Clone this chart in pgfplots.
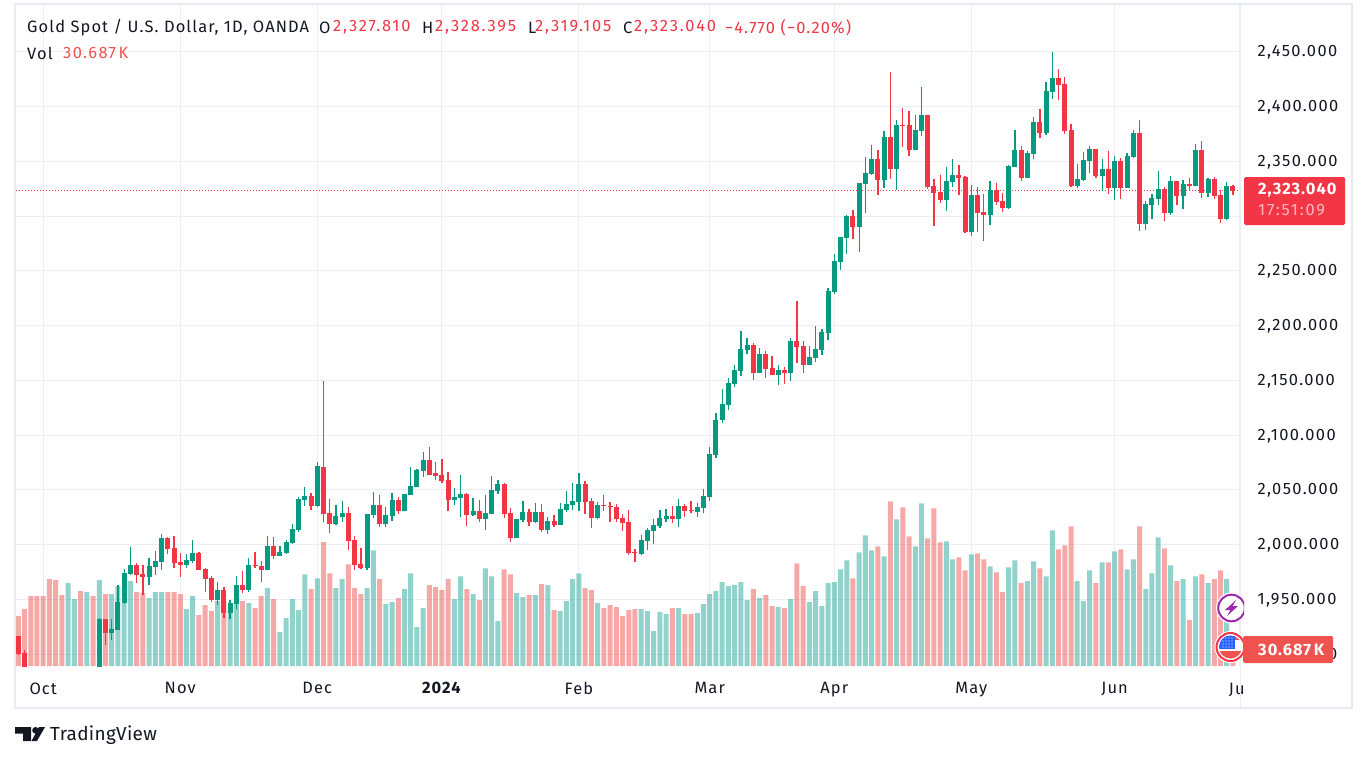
\documentclass[border=0pt]{standalone}
\usepackage{fontspec}
\usepackage{pgfplots}
\usepackage{pgfplotstable}
\pgfplotsset{compat=1.18}
\setmainfont[LetterSpace=6.8]{Fira Sans}
\newfontfamily\nums[LetterSpace=8.5]{Fira Sans}
\newfontfamily\hnums[LetterSpace=11]{Fira Sans}
\newfontfamily\tagfont[LetterSpace=6]{Fira Sans}
\newfontfamily\logofont[LetterSpace=1.7]{Fira Sans}

\definecolor{upc}{HTML}{089981}
\definecolor{dnc}{HTML}{F23645}
\definecolor{volup}{HTML}{26A69A}
\definecolor{voldn}{HTML}{EF5350}
\definecolor{ink}{HTML}{131722}
\definecolor{gridc}{HTML}{ECEEF5}
\definecolor{framec}{HTML}{E9E9F2}
\definecolor{boltc}{HTML}{9C27B0}
\definecolor{flagc}{HTML}{2962FF}

% daily candles, i = bar number (2..12 lie below the visible range)
\pgfplotstableread{
i o h l c
0 1916.7 1916.7 1899.4 1900.3
1 1901.2 1904 1880 1885
13 1870 1933.1 1868 1932.2
14 1932.2 1932.2 1908.5 1919.5
15 1919.5 1932.2 1913.1 1923.1
16 1922.2 1963.2 1922.2 1947.7
17 1946.8 1977.8 1945.9 1974.2
18 1973.3 1997.9 1972.4 1981.5
19 1981.5 1983.3 1965.1 1972.4
20 1973.3 1981.5 1954.1 1970.5
21 1970.5 1987.9 1963.2 1980.6
22 1979.6 1994.2 1972.4 1985.1
23 1984.2 2009.7 1976.9 2006.1
24 2006.1 2007 1991.5 1996.1
25 1997 2007.9 1978.7 1983.3
26 1984.2 1992.4 1970.5 1981.5
27 1981.5 1991.5 1978.7 1986
28 1985.1 2004.3 1983.3 1992.4
29 1992.4 1993.3 1976.9 1976.9
30 1977.8 1978.7 1956.8 1968.7
31 1969.6 1971.4 1947.7 1949.6
32 1949.6 1966 1945 1958.7
33 1958.7 1961.4 1933.1 1937.7
34 1937.7 1949.6 1932.2 1946.8
35 1945.9 1971.4 1941.3 1963.2
36 1963.2 1976 1955.9 1958.7
37 1958.7 1987.9 1956.8 1981.5
38 1981.5 1993.3 1978.7 1980.6
39 1980.6 1985.1 1966 1976.9
40 1976.9 2007.9 1976.9 1998.8
41 1998.8 2007 1986.9 1989.7
42 1989.7 1998.8 1989.7 1993.3
43 1992.4 2004.3 1991.5 2002.4
44 2001.5 2018.9 2000.6 2014.3
45 2013.4 2043.5 2011.6 2041.7
46 2040.8 2052.6 2035.3 2044.4
47 2044.4 2047.1 2031.6 2035.3
48 2035.3 2075.4 2034.4 2071.8
49 2071.4 2149 2020.4 2027.7
50 2028.6 2041.3 2010.3 2018.5
51 2018.5 2035.9 2017.6 2025.8
52 2024.9 2039.5 2020.4 2028.6
53 2028.6 2034 1994.8 2003
54 2004 2007.6 1976.6 1981.2
55 1982.1 1996.7 1977.5 1978.4
56 1978.4 2027.7 1976.6 2027.7
57 2026.8 2047.7 2024 2035.9
58 2035.9 2045 2015.8 2018.5
59 2018.5 2034 2015.8 2026.8
60 2025.8 2046.8 2021.3 2040.4
61 2040.4 2043.2 2027.7 2030.4
62 2030.4 2045.9 2030.4 2045.9
63 2045 2070.5 2045 2053.2
64 2052.3 2068.7 2052.3 2067.8
65 2066.9 2084.2 2061.4 2076.9
66 2076.9 2088.8 2064.1 2064.1
67 2065.1 2075.1 2058.7 2062.3
68 2063.2 2078.7 2055.9 2057.8
69 2058.7 2066 2030.4 2040.4
70 2040.4 2051.4 2035.9 2043.2
71 2042.3 2064.1 2024.9 2045.9
72 2045.9 2046.8 2016.7 2026.8
73 2026.8 2042.3 2025.8 2030.4
74 2030.4 2040.4 2020.4 2023.1
75 2023.1 2045 2013.1 2028.6
76 2027.7 2062.3 2027.7 2049.6
77 2048.6 2058.7 2045.9 2055
78 2055 2055.9 2024 2027.7
79 2028.6 2033.1 2002.1 2005.8
80 2005.8 2023.1 2005.8 2023.1
81 2022.2 2039.5 2020.4 2029.5
82 2029.5 2032.2 2016.7 2020.4
83 2020.4 2037.7 2019.5 2029.5
84 2029.5 2036.8 2011.2 2013.1
85 2013.1 2024.9 2009.4 2021.3
86 2021.3 2026.8 2015.8 2017.6
87 2017.6 2037.7 2017.6 2032.2
88 2031.3 2048.6 2029.5 2036.8
89 2035.9 2055.9 2031.3 2039.5
90 2038.6 2065.1 2030.4 2055
91 2055 2057.8 2027.7 2038.6
92 2039.5 2042.3 2014.9 2024
93 2024 2038.6 2023.1 2035.9
94 2035.9 2045 2030.4 2035
95 2035 2038.6 2020.4 2034
96 2034 2036.8 2020.4 2023.1
97 2024 2027.7 2012.2 2019.5
98 2020.4 2031.3 1990.3 1992.1
99 1993 1995.7 1983.9 1992.1
100 1991.2 2008.5 1990.3 2004
101 2003 2014.9 1994.8 2013.1
102 2012.2 2023.1 2000.3 2017.6
103 2016.7 2031.3 2014.9 2024
104 2023.1 2032.2 2020.4 2025.8
105 2025.8 2035 2019.5 2023.1
106 2023.1 2041.3 2015.8 2035
107 2035 2036.8 2024.9 2030.4
108 2031.3 2039.5 2028.6 2030.4
109 2029.5 2037.7 2024.9 2034
110 2033.1 2050.5 2028.6 2044.1
111 2043.2 2088.8 2039.5 2082.4
112 2081.5 2119.8 2079.6 2114.3
113 2113.4 2141.7 2110.7 2128
114 2127.1 2152.6 2123.4 2148
115 2147.1 2164.5 2144.4 2159.9
116 2159 2195.5 2154.4 2179
117 2178.1 2189.1 2174.5 2182.7
118 2182.7 2184.5 2150.8 2157.2
119 2157.2 2180 2156.3 2174.5
120 2174.5 2177.2 2152.6 2160.8
121 2161.7 2172.7 2155.3 2155.3
122 2155.3 2163.6 2146.2 2159.9
123 2159.9 2162.6 2147.1 2156.3
124 2156.3 2189.1 2149.9 2186.4
125 2186.4 2222.8 2166.3 2180.9
126 2181.8 2186.4 2157.2 2164.5
127 2164.5 2181.8 2163.6 2171.8
128 2170.8 2200 2167.2 2179
129 2178.1 2197.3 2173.6 2194.6
130 2193.6 2234 2187.3 2232
131 2231 2265.6 2228.8 2259
132 2258 2281.2 2251 2281.2
133 2280.2 2301.2 2265.6 2300.3
134 2300.3 2305.8 2279.3 2290.3
135 2290.3 2330.4 2267.5 2330.4
136 2329.5 2354.1 2303 2339.5
137 2338.6 2365.1 2337.7 2352.3
138 2352.3 2360.5 2319.5 2333.1
139 2333.1 2377.8 2325.8 2372.4
140 2372.4 2431.6 2334 2343.2
141 2343.2 2387.9 2324 2383.3
142 2383.3 2398.8 2363.2 2382.4
143 2383.3 2396.1 2355 2360.5
144 2360.5 2392.4 2360.5 2378.7
145 2377.8 2418 2373.3 2392.4
146 2392.4 2392.4 2324.9 2326.8
147 2327.7 2334 2291.2 2321.3
148 2322.2 2337.7 2312.2 2314.9
149 2314.9 2345 2304.9 2332.2
150 2331.3 2352.3 2326.8 2337.7
151 2337.7 2346.8 2319.5 2335
152 2335.9 2336.8 2284.8 2285.7
153 2285.7 2328.6 2282.1 2319.5
154 2319.5 2326.8 2285.7 2303
155 2304 2320.4 2277.5 2301.2
156 2301.2 2332.2 2292.1 2324
157 2324 2330.4 2310.3 2313.1
158 2314 2321.3 2304 2307.6
159 2307.6 2346.8 2306.7 2345.9
160 2345 2378.7 2345 2360.5
161 2360.5 2364.1 2332.2 2335
162 2335 2359.6 2335 2357.8
163 2356.8 2390.6 2352.3 2386
164 2386 2397.9 2371.4 2376
165 2376 2422.5 2374.2 2414.3
166 2413.4 2449.9 2407 2426.2
167 2426.2 2434.4 2406.1 2419.8
168 2420.7 2427.1 2375.1 2377.8
169 2378.7 2384.2 2326.8 2327.7
170 2327.7 2347.7 2325.8 2334
171 2333.1 2358.7 2332.2 2351.4
172 2350.5 2364.1 2339.3 2361.4
173 2361.4 2361.4 2335 2336.8
174 2336.8 2352.3 2323.1 2343.2
175 2343.2 2359.6 2320.4 2325.8
176 2325.8 2355 2314.9 2350.5
177 2350.5 2353.2 2315.8 2325.8
178 2325.8 2357.8 2325.8 2355
179 2354.1 2378.7 2353.2 2376
180 2376 2387.9 2286.6 2293
181 2293 2314 2287.5 2311.2
182 2310.3 2320.4 2297.3 2316.7
183 2315.8 2341.3 2310.3 2324.9
184 2324.9 2326.8 2295.7 2303
185 2303 2336.8 2301.2 2332.2
186 2332.2 2332.2 2310.3 2318.5
187 2318.5 2333.1 2306.7 2329.5
188 2329.5 2335 2324 2327.7
189 2327.7 2366 2327.7 2360.5
190 2360.5 2368.7 2316.7 2321.3
191 2321.3 2335 2317.6 2334
192 2334 2335.9 2315.8 2318.5
193 2319.5 2324 2294 2297.6
194 2297.6 2331.3 2296.7 2327.7
195 2327.81 2328.395 2319.105 2323.04
}\candles

% volume in thousands, d = 1 for an up day, 0 for a down day
\pgfplotstableread{
i v d
0 90 0
1 102.6 0
2 126 0
3 126 0
4 126 0
5 156.6 0
6 154.8 0
7 127.8 0
8 149.4 1
9 120.6 1
10 135 0
11 133.2 1
12 126 0
13 154.8 1
14 129.6 0
15 129.6 1
16 144 1
17 113.4 1
18 153 1
19 133.2 0
20 131.4 0
21 122.4 1
22 133.2 1
23 133.2 1
24 133.2 0
25 133.2 0
26 129.6 0
27 102.6 1
28 126 1
29 91.8 0
30 109.8 0
31 99 0
32 117 1
33 117 0
34 100.8 1
35 112.8 1
36 117 0
37 113.4 1
38 104.4 0
39 126 0
40 140.4 1
41 120.6 0
42 61.2 1
43 86.4 1
44 120.6 1
45 100.8 1
46 165.6 1
47 138.6 0
48 158.4 1
49 223.8 0
50 167.4 0
51 140.4 1
52 156.6 1
53 183.6 0
54 140.4 0
55 129.6 0
56 140.4 1
57 208.8 1
58 156.6 0
59 111.6 1
60 115.2 1
61 122.4 0
62 138.6 1
63 167.4 1
64 70.2 1
65 104.4 1
66 145.8 0
67 142.2 0
68 136.8 0
69 156.6 0
70 120.6 1
71 162 1
72 138.6 0
73 129.6 1
74 118.8 0
75 176.4 1
76 162 1
77 81 1
78 174.6 0
79 165.6 0
80 131.4 1
81 124.2 1
82 127.8 0
83 127.8 1
84 147.6 0
85 145.8 1
86 100.8 0
87 99 1
88 117 1
89 156.6 1
90 167.4 1
91 140.4 0
92 136.8 0
93 113.4 1
94 104.4 0
95 109.8 0
96 106.2 0
97 90 0
98 100.8 0
99 102.6 0
100 102.6 1
101 99 1
102 63 1
103 97.2 1
104 93.6 1
105 104.4 0
106 104.4 1
107 93.6 0
108 93.6 0
109 95.4 1
110 111.6 1
111 129.6 1
112 135 1
113 151.2 1
114 144 1
115 145.8 1
116 151.2 1
117 118.8 1
118 138.6 0
119 122.4 1
120 127.8 0
121 108 0
122 106.2 1
123 104.4 0
124 120.6 1
125 185.4 0
126 144 0
127 115.2 1
128 135 1
129 108 1
130 149.4 1
131 151.2 1
132 174.6 1
133 190.8 1
134 158.4 0
135 205.2 1
136 235.8 1
137 208.8 1
138 216 0
139 198 1
140 297 0
141 264.6 1
142 286.2 0
143 234 0
144 216 1
145 293.4 1
146 230.4 0
147 284.4 0
148 223.2 0
149 225 1
150 192.6 1
151 196.2 0
152 172.8 0
153 201.6 1
154 203.4 0
155 192.6 0
156 180 1
157 169.2 0
158 133.2 0
159 178.2 1
160 190.8 1
161 149.4 0
162 153 1
163 189 1
164 176.4 0
165 162 1
166 244.8 1
167 210.6 0
168 217.8 0
169 252 0
170 153 1
171 117 1
172 172.8 1
173 149.4 0
174 187.2 1
175 187.2 0
176 207 1
177 210.6 0
178 174.6 1
179 192.6 1
180 252 0
181 138.6 1
182 167.4 1
183 232.2 1
184 212.4 0
185 181.8 1
186 153 0
187 156.6 1
188 82.8 0
189 162 1
190 165.6 0
191 149.4 1
192 156.6 0
193 172.8 0
194 156.6 1
195 30.687 0
}\volumes

\pgfplotsset{
  pane/.style={
    at={(16bp,-666bp)}, anchor=south west,
    scale only axis, width=1224bp, height=661bp,
    xmin=-0.369, xmax=196.13,
  },
  wick/.style={draw=none, mark=none, forget plot,
    error bars/.cd, y dir=plus, y explicit, error mark=none,
    error bar style={line width=1.3bp, color=#1}},
  body/.style={draw=none, mark=none, forget plot,
    error bars/.cd, y dir=plus, y explicit, error mark=none,
    error bar style={line width=5bp, color=#1}},
}

\begin{document}
\begin{tikzpicture}[x=1bp,y=-1bp]
\useasboundingbox (0,0) rectangle (1365,761);
\fill[white] (0,0) rectangle (1365,761);

% price scale, grid, last price line
\begin{axis}[pane,
    ymin=1889.3, ymax=2492.63,
    axis line style={draw=none},
    tick style={draw=none},
    grid=major, grid style={gridc, line width=1bp},
    xtick={4,26,48,68,90,111,131,153,176,196},
    xticklabels={Oct,Nov,Dec,\textbf{2024},Feb,Mar,Apr,May,Jun,Ju\phantom{l}},
    ytick={1900,1950,...,2450},
    ytick pos=right, yticklabel pos=right,
    xticklabel style={font=\fontsize{16.5}{18}\selectfont, text=ink, yshift=-13bp},
    yticklabel style={font=\nums\fontsize{16.5}{18}\selectfont, text=ink,
      anchor=west, xshift=14bp, yshift=-0.7bp,
      /pgf/number format/.cd, fixed, fixed zerofill, precision=3,
      1000 sep={,}, assume math mode=true},
  ]
  \addplot[dnc, line width=1bp, dash pattern=on 1bp off 2bp]
    coordinates {(-0.369,2323.04) (196.13,2323.04)};
\end{axis}

% volume pane
\begin{axis}[pane, hide axis, ymin=0, ymax=1193,
    ybar, bar width=5bp, bar shift=0pt]
  \addplot[draw=none, fill=volup, fill opacity=0.5]
    table[x expr={\thisrow{d}>0 ? \thisrow{i} : nan}, y=v] {\volumes};
  \addplot[draw=none, fill=voldn, fill opacity=0.5]
    table[x expr={\thisrow{d}<1 ? \thisrow{i} : nan}, y=v] {\volumes};
\end{axis}

% candles
\begin{axis}[pane, hide axis, ymin=1889.3, ymax=2492.63]
  \addplot[wick=upc] table[x expr={\thisrow{c}>=\thisrow{o} ? \thisrow{i} : nan}, y=l,
    y error expr=\thisrow{h}-\thisrow{l}] {\candles};
  \addplot[wick=dnc] table[x expr={\thisrow{c}<\thisrow{o} ? \thisrow{i} : nan}, y=l,
    y error expr=\thisrow{h}-\thisrow{l}] {\candles};
  \addplot[body=upc] table[x expr={\thisrow{c}>=\thisrow{o} ? \thisrow{i} : nan}, y=o,
    y error expr=\thisrow{c}-\thisrow{o}] {\candles};
  \addplot[body=dnc] table[x expr={\thisrow{c}<\thisrow{o} ? \thisrow{i} : nan}, y=c,
    y error expr=\thisrow{o}-\thisrow{c}] {\candles};
\end{axis}

% frame
\draw[framec, line width=2bp] (15,4) rectangle (1352,708);
\draw[gridc, line width=1bp] (1240,5) -- (1240,707);

% legend
\begin{scope}[every node/.style={anchor=west, inner sep=0pt, font=\fontsize{16.5}{18}\selectfont, text=ink}]
\node at (27,27.7) {Gold Spot / U.S. Dollar, 1D, OANDA};
\node at (319,27.7) {O};
\node[text=dnc, font=\hnums\fontsize{16.5}{18}\selectfont] at (333,27.7) {2,327.810};
\node at (422,27.7) {H};
\node[text=dnc, font=\hnums\fontsize{16.5}{18}\selectfont] at (435,27.7) {2,328.395};
\node at (528,27.7) {L};
\node[text=dnc, font=\hnums\fontsize{16.5}{18}\selectfont] at (535,27.7) {2,319.105};
\node at (623,27.7) {C};
\node[text=dnc, font=\hnums\fontsize{16.5}{18}\selectfont] at (634,27.7) {2,323.040};
\node[text=dnc] at (725,27.7) {−4.770 (−0.20\%)};
\node at (27,53) {Vol};
\node[text=voldn, font=\nums\fontsize{16.5}{18}\selectfont] at (63,53) {30.687\,K};
\end{scope}

% event icons
\begin{scope}
\clip (1200,590) rectangle (1244,666);
\fill[white] (1231.5,608) circle (15.5);
\draw[boltc, line width=2bp] (1231.5,608) circle (13.3);
\fill[boltc] (1236,600) -- (1225,610) -- (1230.5,610) -- (1227,616) -- (1238,606) -- (1232.5,606) -- cycle;
\fill[white] (1230.5,647) circle (16);
\draw[dnc, line width=2bp] (1230.5,647) circle (14);
\begin{scope}
\clip (1230.5,647) circle (11.5);
\fill[voldn] (1218,636) rectangle (1244,640);
\fill[voldn] (1218,651) rectangle (1244,659);
\fill[flagc] (1218,635) rectangle (1235,649);
\foreach \a in {1223,1226,1229,1232} \foreach \b in {638,641,644,647}
  \fill[white] (\a,\b) circle (0.6);
\end{scope}
\end{scope}

% last value tags
\fill[dnc, rounded corners=1.5bp] (1244,177) rectangle (1345,225);
\node[anchor=west, inner sep=0pt, text=white, font=\tagfont\fontsize{16.5}{18}\selectfont] at (1258,190.5) {\textbf{2,323.040}};
\node[anchor=west, inner sep=0pt, text=white, opacity=0.65, font=\hnums\fontsize{16.5}{18}\selectfont] at (1258,210.5) {17:51:09};
\fill[voldn, rounded corners=1.5bp] (1243,636) rectangle (1333,663);
\node[anchor=west, inner sep=0pt, text=white, font=\tagfont\fontsize{16.5}{18}\selectfont] at (1258,649.5) {\textbf{30.687\,K}};

% TradingView mark
\fill[ink] (15,727) -- (31,727) -- (31,741) -- (23,741) -- (23,733.5) -- (15,733.5) -- cycle;
\fill[ink] (35.5,730.3) circle (3.3);
\fill[ink] (39,727) -- (45,727) -- (37,741) -- (31.5,741) -- cycle;
\node[anchor=west, inner sep=0pt, text=ink, font=\logofont\fontsize{19}{21}\selectfont] at (50,735) {TradingView};
\end{tikzpicture}
\end{document}
